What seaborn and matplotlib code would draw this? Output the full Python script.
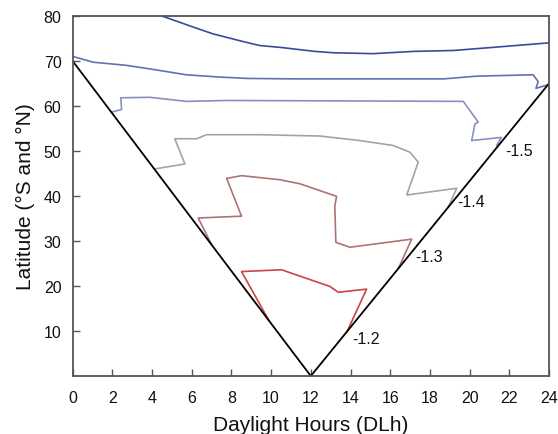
import matplotlib
matplotlib.use("Agg")
import matplotlib.pyplot as plt
import seaborn as sns
import pandas as pd

# Boundary (V shape)
bound_x = [0, 12, 24]
bound_y = [70, 0, 65]

# Contour lines
c16_x = [4.48, 6.08, 7.07, 8.58, 9.43, 10.45, 12.2, 13.13, 15.14, 17.16, 19.17, 21.19, 22.87, 24.0]
c16_y = [80.0, 77.5, 76.0, 74.3, 73.4, 73.0, 72.1, 71.8, 71.6, 72.1, 72.3, 73.0, 73.6, 74.0]

c155_x = [0.0, 1.04, 2.72, 4.06, 5.74, 7.42, 8.77, 11.1, 18.7, 20.35, 23.2, 23.45, 23.34, 23.96]
c155_y = [71.0, 69.7, 69.0, 68.1, 66.9, 66.4, 66.1, 66.0, 66.0, 66.6, 66.9, 65.4, 63.9, 64.7]

c15_x = [1.96, 2.47, 2.43, 3.89, 5.74, 7.76, 19.68, 20.43, 20.27, 20.1, 21.6, 21.36]
c15_y = [58.6, 59.2, 61.8, 61.9, 61.0, 61.2, 61.0, 56.4, 56.0, 52.3, 53.0, 51.2]

c14_x = [4.15, 5.66, 5.15, 6.25, 6.75, 9.44, 12.46, 14.47, 16.15, 17.0, 17.41, 16.83, 19.35, 18.92]
c14_y = [46.0, 47.1, 52.7, 52.7, 53.6, 53.6, 53.3, 52.3, 51.2, 49.7, 47.5, 40.2, 41.7, 37.5]

c13_x = [7.0, 6.33, 8.51, 7.76, 8.51, 10.44, 11.45, 13.3, 13.21, 13.26, 13.97, 17.08, 16.4]
c13_y = [29.2, 35.1, 35.5, 43.9, 44.5, 43.6, 42.7, 39.9, 37.8, 29.7, 28.6, 30.4, 23.8]

c12_x = [9.9, 8.51, 10.53, 11.11, 12.96, 13.38, 14.81, 13.83]
c12_y = [12.25, 23.2, 23.6, 22.7, 19.9, 18.6, 19.3, 9.9]

levels = ["-1.6", "-1.55", "-1.5", "-1.4", "-1.3", "-1.2"]
colors = ["#3c4a98", "#6470b0", "#8890c0", "#a4a4a4", "#b07272", "#cc4444"]
contours = [(c16_x, c16_y), (c155_x, c155_y), (c15_x, c15_y),
            (c14_x, c14_y), (c13_x, c13_y), (c12_x, c12_y)]

label_text = ["-1.5", "-1.4", "-1.3", "-1.2"]
label_x = [21.8, 19.4, 17.25, 14.07]
label_y = [50.0, 38.7, 26.6, 8.4]

sns.set_style("white")
plt.rcParams['font.family'] = ['Liberation Sans', 'DejaVu Sans']

fig = plt.figure(figsize=(5.58, 4.35), dpi=100)
ax = fig.add_axes([0.130, 0.1333, 0.854, 0.828])

for (xs, ys), col in zip(contours, colors):
    df = pd.DataFrame({"x": xs, "y": ys})
    sns.lineplot(data=df, x="x", y="y", sort=False, estimator=None,
                 color=col, linewidth=1.2, ax=ax)

dfb = pd.DataFrame({"x": bound_x, "y": bound_y})
sns.lineplot(data=dfb, x="x", y="y", sort=False, estimator=None,
             color="black", linewidth=1.3, ax=ax)

for t, lx, ly in zip(label_text, label_x, label_y):
    ax.text(lx, ly, t, fontsize=11.5, ha="left", va="center", color="#111111")

ax.set_xlim(0, 24)
ax.set_ylim(0, 80)
ax.set_xticks(range(0, 25, 2))
ax.set_yticks(range(10, 81, 10))
ax.tick_params(axis="both", direction="in", length=5, width=1, colors="#555555",
               labelcolor="#111111", labelsize=11.5, left=True, bottom=True,
               top=False, right=False)
ax.tick_params(axis="x", pad=10)
ax.tick_params(axis="y", pad=8)
ax.set_xlabel("Daylight Hours (DLh)", fontsize=15, color="#111111", labelpad=7)
ax.set_ylabel("Latitude (°S and °N)", fontsize=15, color="#111111", labelpad=6)
for s in ax.spines.values():
    s.set_color("#555555")
    s.set_linewidth(1.3)

fig.savefig("out.png", dpi=100)
